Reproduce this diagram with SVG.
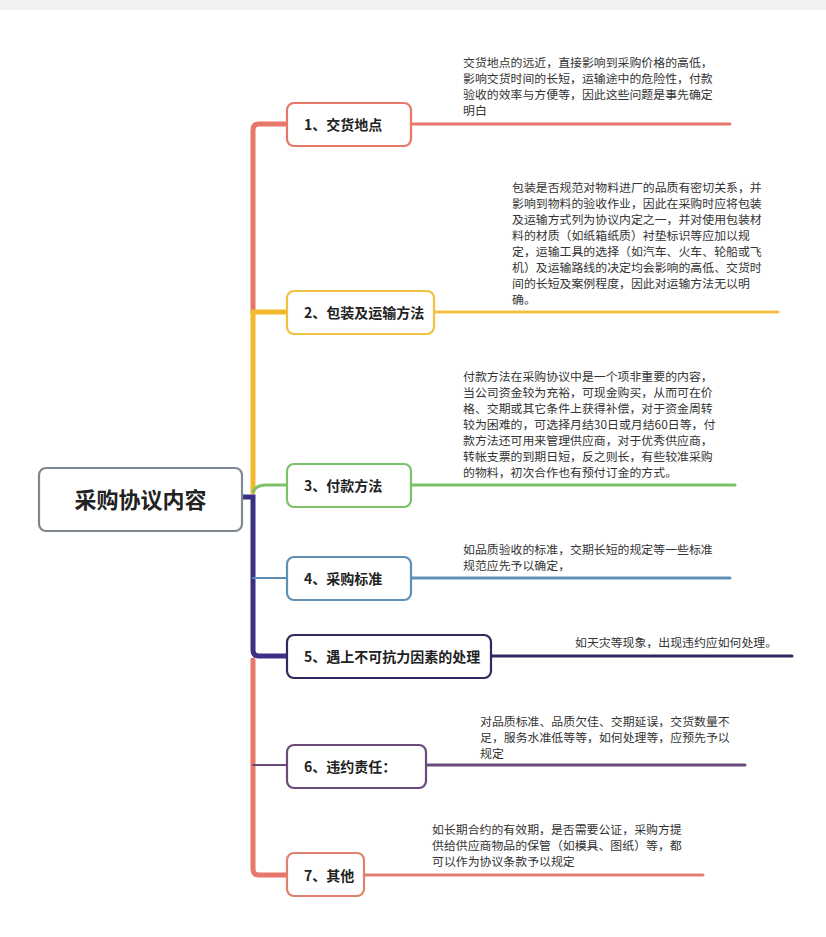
<svg xmlns="http://www.w3.org/2000/svg" width="826" height="937" viewBox="0 0 826 937">
<style>
.n{fill:#fff;stroke-width:2.2}
.nt{font-family:"Noto Sans CJK SC","Noto Sans",sans-serif;font-size:14px;font-weight:bold;fill:#222}
.d{font-family:"Noto Sans CJK SC","Noto Sans",sans-serif;font-size:11.9px;fill:#333}
.c{fill:none;stroke-linecap:round}
</style>
<rect width="826" height="937" fill="#fff"/>
<rect width="826" height="10" fill="#f2f2f2"/>
<g id="connectors">
<path class="c" d="M253 312 V130 Q253 124 259 124 H287" stroke="#e8776b" stroke-width="5"/>
<path class="c" d="M253 492 V312 Q253 312 259 312 H287" stroke="#f2b92c" stroke-width="5"/>
<path class="c" d="M253 492 Q256 485 266 485 H287" stroke="#7cc26a" stroke-width="3"/>
<path class="c" d="M242 497 H253 V650 Q253 656 259 656 H287" stroke="#3b2f86" stroke-width="5"/>
<path class="c" d="M253 578 H287" stroke="#5f8fb5" stroke-width="2"/>
<path class="c" d="M253 660 V869 Q253 875 259 875 H287" stroke="#e8776b" stroke-width="5"/>
<path class="c" d="M253 765 H287" stroke="#6a4a7a" stroke-width="2"/>
<path class="c" d="M411 124 H730" stroke="#e8776b" stroke-width="3"/>
<path class="c" d="M434 312 H778" stroke="#f0c040" stroke-width="3"/>
<path class="c" d="M411 485 H735" stroke="#7cc26a" stroke-width="3"/>
<path class="c" d="M411 578 H730" stroke="#5f8fb5" stroke-width="3"/>
<path class="c" d="M491 656 H792" stroke="#2d2a5e" stroke-width="3"/>
<path class="c" d="M426 765 H745" stroke="#6a4a7a" stroke-width="3"/>
<path class="c" d="M364 875 H703" stroke="#e0806e" stroke-width="3"/>
</g>
<g id="root"><rect x="39" y="468" width="203" height="63" rx="7" class="n" stroke="#7f8791"/><text x="140.5" y="508" text-anchor="middle" font-family="Noto Sans CJK SC,sans-serif" font-size="22" font-weight="bold" fill="#222">采购协议内容</text></g>
<g id="n1"><rect x="287" y="103" width="124" height="43" rx="7" class="n" stroke="#e8776b"/><text x="304" y="130" class="nt">1、交货地点</text>
<text class="d" x="463"><tspan x="463" y="67">交货地点的远近，直接影响到采购价格的高低，</tspan><tspan x="463" y="83">影响交货时间的长短，运输途中的危险性，付款</tspan><tspan x="463" y="99">验收的效率与方便等，因此这些问题是事先确定</tspan><tspan x="463" y="115">明白</tspan></text></g>
<g id="n2"><rect x="287" y="291" width="147" height="43" rx="7" class="n" stroke="#f0c040"/><text x="304" y="318" class="nt">2、包装及运输方法</text>
<text class="d"><tspan x="512" y="192">包装是否规范对物料进厂的品质有密切关系，并</tspan><tspan x="512" y="208">影响到物料的验收作业，因此在采购时应将包装</tspan><tspan x="512" y="224">及运输方式列为协议内定之一，并对使用包装材</tspan><tspan x="512" y="240">料的材质（如纸箱纸质）衬垫标识等应加以规</tspan><tspan x="512" y="256">定，运输工具的选择（如汽车、火车、轮船或飞</tspan><tspan x="512" y="272">机）及运输路线的决定均会影响的高低、交货时</tspan><tspan x="512" y="288">间的长短及案例程度，因此对运输方法无以明</tspan><tspan x="512" y="304">确。</tspan></text></g>
<g id="n3"><rect x="287" y="464" width="124" height="43" rx="7" class="n" stroke="#7cc26a"/><text x="304" y="491" class="nt">3、付款方法</text>
<text class="d"><tspan x="463" y="381">付款方法在采购协议中是一个项非重要的内容，</tspan><tspan x="463" y="397">当公司资金较为充裕，可现金购买，从而可在价</tspan><tspan x="463" y="413">格、交期或其它条件上获得补偿，对于资金周转</tspan><tspan x="463" y="429">较为困难的，可选择月结30日或月结60日等，付</tspan><tspan x="463" y="445">款方法还可用来管理供应商，对于优秀供应商，</tspan><tspan x="463" y="461">转帐支票的到期日短，反之则长，有些较准采购</tspan><tspan x="463" y="477">的物料，初次合作也有预付订金的方式。</tspan></text></g>
<g id="n4"><rect x="287" y="557" width="124" height="43" rx="7" class="n" stroke="#5f8fb5"/><text x="304" y="584" class="nt">4、采购标准</text>
<text class="d"><tspan x="463" y="554">如品质验收的标准，交期长短的规定等一些标准</tspan><tspan x="463" y="570">规范应先予以确定，</tspan></text></g>
<g id="n5"><rect x="287" y="635" width="204" height="43" rx="7" class="n" stroke="#2d2a5e"/><text x="304" y="662" class="nt">5、遇上不可抗力因素的处理</text>
<text class="d" x="575" y="647">如天灾等现象，出现违约应如何处理。</text></g>
<g id="n6"><rect x="287" y="745" width="139" height="43" rx="7" class="n" stroke="#6a4a7a"/><text x="304" y="772" class="nt">6、违约责任：</text>
<text class="d"><tspan x="480" y="726">对品质标准、品质欠佳、交期延误，交货数量不</tspan><tspan x="480" y="742">足，服务水准低等等，如何处理等，应预先予以</tspan><tspan x="480" y="758">规定</tspan></text></g>
<g id="n7"><rect x="287" y="853" width="77" height="43" rx="7" class="n" stroke="#e0806e"/><text x="304" y="881" class="nt">7、其他</text>
<text class="d"><tspan x="432" y="834">如长期合约的有效期，是否需要公证，采购方提</tspan><tspan x="432" y="850">供给供应商物品的保管（如模具、图纸）等，都</tspan><tspan x="432" y="866">可以作为协议条款予以规定</tspan></text></g>
</svg>
